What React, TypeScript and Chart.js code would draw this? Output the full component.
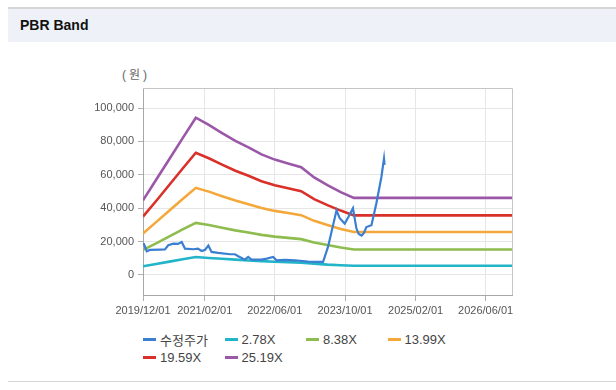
import React, { useEffect, useRef } from "react";
import { Chart, registerables } from "chart.js";

Chart.register(...registerables);

const TITLE = "PBR Band";
const UNIT = "(원)";
const SERIES_NAMES = ["수정주가", "2.78X", "8.38X", "13.99X", "19.59X", "25.19X"];
const SERIES_COLORS = ["#3a7fd2", "#22b4c8", "#8fbc4e", "#f5a83a", "#d9302a", "#9b58a8"];

const X_TICK_LABELS = ["2019/12/01", "2021/02/01", "2022/06/01", "2023/10/01", "2025/02/01", "2026/06/01"];
const X_MIN_DATE = "2019/12/01";
const X_MAX_DATE = "2026/12/01";
const Y_TICKS = [0, 20000, 40000, 60000, 80000, 100000];
const Y_MIN = -12000;
const Y_MAX = 112000;

const PRICE_DATES = [
  "2019/12/01", "2019/12/08", "2019/12/27", "2020/01/18", "2020/03/28", "2020/05/01", "2020/05/24",
  "2020/06/28", "2020/07/30", "2020/08/25", "2020/09/17", "2020/11/13", "2020/12/16", "2021/01/10",
  "2021/02/02", "2021/02/26", "2021/03/20", "2021/05/05", "2021/07/25", "2021/08/29", "2021/09/21",
  "2021/11/06", "2021/11/29", "2021/12/22", "2022/03/01", "2022/04/07", "2022/05/21", "2022/06/13",
  "2022/08/10", "2022/10/18", "2023/01/18", "2023/03/12", "2023/05/02", "2023/06/05", "2023/08/03",
  "2023/08/25", "2023/09/29", "2023/10/26", "2023/11/25", "2023/12/19", "2024/01/04", "2024/01/24",
  "2024/02/08", "2024/02/26", "2024/04/01", "2024/05/05", "2024/06/09", "2024/06/27", "2024/07/01",
];
const PRICE_VALUES = [
  18600, 18400, 14200, 15000, 15200, 15300, 17800,
  18800, 18600, 19800, 15800, 15400, 15800, 14400,
  15000, 17600, 13800, 13200, 12400, 12400, 11200,
  9200, 10800, 9200, 9200, 9800, 10800, 8800,
  9000, 8800, 8000, 7900, 7800, 16800, 38700,
  34000, 30800, 35000, 40000, 27800, 24500, 23600,
  25000, 28700, 29800, 42800, 58700, 69700, 66000,
];

const BAND_DATES = [
  "2019/12/01", "2020/03/01", "2020/06/01", "2020/09/01", "2020/12/01", "2021/03/01", "2021/06/01",
  "2021/09/01", "2021/12/01", "2022/03/01", "2022/06/01", "2022/09/01", "2022/12/01", "2023/03/01",
  "2023/06/01", "2023/09/01", "2023/12/01", "2026/12/01",
];
const BAND_278 = [5200, 6600, 8000, 9400, 10800, 10200, 9700, 9200, 8700, 8300, 7900, 7700, 7400, 6800, 6200, 5800, 5500, 5500];
const BAND_838 = [15000, 18960, 23120, 27280, 31200, 29910, 28280, 26720, 25420, 24020, 22990, 22220, 21460, 19430, 17900, 16500, 15300, 15300];
const BAND_1399 = [24900, 31660, 38600, 45540, 52200, 49930, 47210, 44600, 42430, 40100, 38380, 37100, 35820, 32430, 29880, 27550, 25700, 25700];
const BAND_1959 = [35000, 44330, 54050, 63770, 73200, 69920, 66100, 62450, 59420, 56150, 53740, 51950, 50160, 45420, 41840, 38570, 35700, 35700];
const BAND_2519 = [44700, 57000, 69500, 82000, 94200, 89900, 85000, 80300, 76400, 72200, 69100, 66800, 64500, 58400, 53800, 49600, 46200, 46200];

const toDay = (s: string) => {
  const [y, m, d] = s.split("/").map(Number);
  return (Date.UTC(y, m - 1, d) - Date.UTC(2019, 11, 1)) / 86400000;
};

const pts = (dates: string[], vals: number[]) => dates.map((d, i) => ({ x: toDay(d), y: vals[i] }));

const FONT = "'Liberation Sans', Arial, 'Noto Sans CJK KR', sans-serif";

const boxPlugin = {
  id: "boxBorder",
  afterDraw(chart: any) {
    const { ctx, chartArea } = chart;
    const { left, top, right, bottom } = chartArea;
    ctx.save();
    ctx.strokeStyle = "#c6c6c6";
    ctx.lineWidth = 1;
    ctx.beginPath();
    ctx.moveTo(left, Math.round(top) + 0.5);
    ctx.lineTo(Math.round(right) + 0.5, Math.round(top) + 0.5);
    ctx.lineTo(Math.round(right) + 0.5, bottom);
    ctx.stroke();
    ctx.restore();
  },
};

export default function App() {
  const ref = useRef<HTMLCanvasElement | null>(null);

  useEffect(() => {
    if (!ref.current) return;
    const seriesData = [
      pts(PRICE_DATES, PRICE_VALUES),
      pts(BAND_DATES, BAND_278),
      pts(BAND_DATES, BAND_838),
      pts(BAND_DATES, BAND_1399),
      pts(BAND_DATES, BAND_1959),
      pts(BAND_DATES, BAND_2519),
    ];
    const tickDays = X_TICK_LABELS.map(toDay);
    const chart = new Chart(ref.current, {
      type: "line",
      data: {
        datasets: seriesData.map((d, i) => ({
          label: SERIES_NAMES[i],
          data: d,
          borderColor: SERIES_COLORS[i],
          backgroundColor: SERIES_COLORS[i],
          borderWidth: i === 0 ? 2.2 : 2.6,
          pointRadius: 0,
          tension: 0,
          fill: false,
        })),
      },
      options: {
        responsive: false,
        animation: false,
        devicePixelRatio: 1,
        layout: { padding: { left: 0, right: 18, top: 28, bottom: 0 } },
        plugins: { legend: { display: false }, tooltip: { enabled: false }, title: { display: false } },
        scales: {
          x: {
            type: "linear",
            min: toDay(X_MIN_DATE),
            max: toDay(X_MAX_DATE),
            afterBuildTicks: (scale: any) => {
              scale.ticks = tickDays.map((v) => ({ value: v }));
            },
            afterFit: (scale: any) => {
              scale.height = 25;
            },
            ticks: {
              autoSkip: false,
              maxRotation: 0,
              padding: 3,
              color: "#555",
              font: { family: FONT, size: 11 },
              callback: (v: any) => {
                const idx = tickDays.indexOf(Number(v));
                return idx >= 0 ? X_TICK_LABELS[idx] : "";
              },
            },
            grid: { color: "#e6e6e6", tickLength: 6, tickColor: "#b0b0b0" },
            border: { color: "#a8a8a8" },
          },
          y: {
            type: "linear",
            min: Y_MIN,
            max: Y_MAX,
            afterBuildTicks: (scale: any) => {
              scale.ticks = Y_TICKS.map((v) => ({ value: v }));
            },
            afterFit: (scale: any) => {
              scale.width = 83;
            },
            ticks: {
              padding: 4,
              color: "#555",
              font: { family: FONT, size: 11 },
              callback: (v: any) => Number(v).toLocaleString("en-US"),
            },
            grid: { color: "#e6e6e6", tickLength: 5, tickColor: "#b0b0b0" },
            border: { color: "#a8a8a8" },
          },
        },
      },
      plugins: [boxPlugin],
    } as any);
    return () => chart.destroy();
  }, []);

  return (
    <div>
      <div
        style={{
          position: "absolute",
          left: 8,
          top: 7,
          width: 608,
          height: 35,
          background: "#eef2f8",
          borderTop: "2px solid #d6d6d6",
          boxSizing: "border-box",
        }}
      >
        <div
          style={{
            position: "absolute",
            left: 12,
            top: 8,
            fontFamily: FONT,
            fontWeight: "bold",
            fontSize: 14,
            color: "#111",
            lineHeight: "16px",
          }}
        >
          {TITLE}
        </div>
      </div>
      <div
        style={{
          position: "absolute",
          left: 122,
          top: 67,
          fontFamily: FONT,
          fontSize: 12,
          color: "#666",
          letterSpacing: 3,
          lineHeight: "16px",
        }}
      >
        {UNIT}
      </div>
      <canvas
        ref={ref}
        width={470}
        height={260}
        style={{ position: "absolute", left: 60, top: 60, width: 470, height: 260 }}
      />
      <div
        style={{
          position: "absolute",
          left: 143,
          top: 331,
          width: 330,
          display: "flex",
          flexWrap: "wrap",
          fontFamily: FONT,
          fontSize: 13,
          color: "#444",
        }}
      >
        {SERIES_NAMES.map((n, i) => (
          <div key={n} style={{ width: 81.5, height: 17.5, display: "flex", alignItems: "center", whiteSpace: "nowrap" }}>
            <span style={{ display: "inline-block", width: 13, height: 3, background: SERIES_COLORS[i], marginRight: 4 }} />
            <span>{n}</span>
          </div>
        ))}
      </div>
      <div style={{ position: "absolute", left: 8, top: 381, width: 608, height: 1, background: "#d6d6d6" }} />
    </div>
  );
}
